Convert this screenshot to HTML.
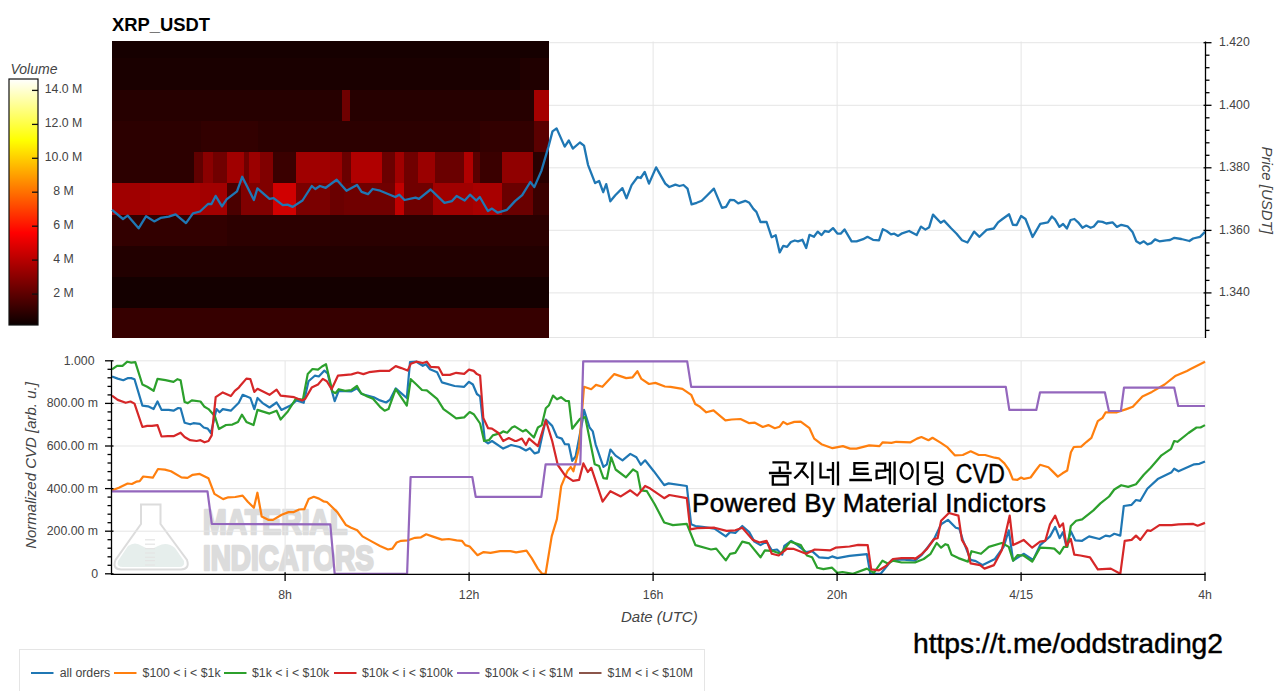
<!DOCTYPE html>
<html><head><meta charset="utf-8"><style>html,body{margin:0;padding:0;background:#fff;width:1280px;height:691px;overflow:hidden}</style></head>
<body><svg width="1280" height="691" viewBox="0 0 1280 691" style="display:block;font-family:'Liberation Sans',sans-serif"><rect width="1280" height="691" fill="#fff"/><text x="112" y="30.8" font-size="19" font-weight="bold" fill="#000" textLength="98" lengthAdjust="spacingAndGlyphs">XRP_USDT</text><line x1="285.1" y1="41.5" x2="285.1" y2="337.5" stroke="#e5e5e5" stroke-width="1"/><line x1="469.1" y1="41.5" x2="469.1" y2="337.5" stroke="#e5e5e5" stroke-width="1"/><line x1="653.1" y1="41.5" x2="653.1" y2="337.5" stroke="#e5e5e5" stroke-width="1"/><line x1="837.1" y1="41.5" x2="837.1" y2="337.5" stroke="#e5e5e5" stroke-width="1"/><line x1="1021.1" y1="41.5" x2="1021.1" y2="337.5" stroke="#e5e5e5" stroke-width="1"/><line x1="112" y1="42.7" x2="1205" y2="42.7" stroke="#e5e5e5" stroke-width="1"/><line x1="112" y1="105.3" x2="1205" y2="105.3" stroke="#e5e5e5" stroke-width="1"/><line x1="112" y1="167.8" x2="1205" y2="167.8" stroke="#e5e5e5" stroke-width="1"/><line x1="112" y1="230.3" x2="1205" y2="230.3" stroke="#e5e5e5" stroke-width="1"/><line x1="112" y1="292.9" x2="1205" y2="292.9" stroke="#e5e5e5" stroke-width="1"/><line x1="112" y1="337.5" x2="1205" y2="337.5" stroke="#e5e5e5" stroke-width="1"/><rect x="112" y="41" width="437" height="17" fill="rgb(22,0,0)" shape-rendering="crispEdges"/><rect x="112" y="58" width="408" height="32" fill="rgb(26,0,0)" shape-rendering="crispEdges"/><rect x="520" y="58" width="29" height="32" fill="rgb(32,0,0)" shape-rendering="crispEdges"/><rect x="112" y="90" width="230" height="31" fill="rgb(38,0,0)" shape-rendering="crispEdges"/><rect x="342" y="90" width="8" height="31" fill="rgb(110,0,0)" shape-rendering="crispEdges"/><rect x="350" y="90" width="184" height="31" fill="rgb(38,0,0)" shape-rendering="crispEdges"/><rect x="534" y="90" width="15" height="31" fill="rgb(165,0,0)" shape-rendering="crispEdges"/><rect x="112" y="121" width="89" height="31" fill="rgb(44,0,0)" shape-rendering="crispEdges"/><rect x="201" y="121" width="57" height="31" fill="rgb(50,0,0)" shape-rendering="crispEdges"/><rect x="258" y="121" width="222" height="31" fill="rgb(44,0,0)" shape-rendering="crispEdges"/><rect x="480" y="121" width="54" height="31" fill="rgb(50,0,0)" shape-rendering="crispEdges"/><rect x="534" y="121" width="15" height="31" fill="rgb(90,0,0)" shape-rendering="crispEdges"/><rect x="112" y="152" width="82" height="31" fill="rgb(44,0,0)" shape-rendering="crispEdges"/><rect x="194" y="152" width="9" height="31" fill="rgb(96,0,0)" shape-rendering="crispEdges"/><rect x="203" y="152" width="10" height="31" fill="rgb(138,0,0)" shape-rendering="crispEdges"/><rect x="213" y="152" width="14" height="31" fill="rgb(112,0,0)" shape-rendering="crispEdges"/><rect x="227" y="152" width="17" height="31" fill="rgb(160,0,0)" shape-rendering="crispEdges"/><rect x="244" y="152" width="5" height="31" fill="rgb(112,0,0)" shape-rendering="crispEdges"/><rect x="249" y="152" width="11" height="31" fill="rgb(155,0,0)" shape-rendering="crispEdges"/><rect x="260" y="152" width="13" height="31" fill="rgb(128,0,0)" shape-rendering="crispEdges"/><rect x="273" y="152" width="23" height="31" fill="rgb(58,0,0)" shape-rendering="crispEdges"/><rect x="296" y="152" width="34" height="31" fill="rgb(160,0,0)" shape-rendering="crispEdges"/><rect x="330" y="152" width="12" height="31" fill="rgb(154,0,0)" shape-rendering="crispEdges"/><rect x="342" y="152" width="9" height="31" fill="rgb(106,0,0)" shape-rendering="crispEdges"/><rect x="351" y="152" width="31" height="31" fill="rgb(176,0,0)" shape-rendering="crispEdges"/><rect x="382" y="152" width="13" height="31" fill="rgb(106,0,0)" shape-rendering="crispEdges"/><rect x="395" y="152" width="9" height="31" fill="rgb(160,0,0)" shape-rendering="crispEdges"/><rect x="404" y="152" width="14" height="31" fill="rgb(112,0,0)" shape-rendering="crispEdges"/><rect x="418" y="152" width="17" height="31" fill="rgb(154,0,0)" shape-rendering="crispEdges"/><rect x="435" y="152" width="29" height="31" fill="rgb(106,0,0)" shape-rendering="crispEdges"/><rect x="464" y="152" width="9" height="31" fill="rgb(176,0,0)" shape-rendering="crispEdges"/><rect x="473" y="152" width="7" height="31" fill="rgb(90,0,0)" shape-rendering="crispEdges"/><rect x="480" y="152" width="22" height="31" fill="rgb(58,0,0)" shape-rendering="crispEdges"/><rect x="502" y="152" width="31" height="31" fill="rgb(144,0,0)" shape-rendering="crispEdges"/><rect x="533" y="152" width="16" height="31" fill="rgb(42,0,0)" shape-rendering="crispEdges"/><rect x="112" y="183" width="38" height="32" fill="rgb(160,0,0)" shape-rendering="crispEdges"/><rect x="150" y="183" width="50" height="32" fill="rgb(168,0,0)" shape-rendering="crispEdges"/><rect x="200" y="183" width="27" height="32" fill="rgb(162,0,0)" shape-rendering="crispEdges"/><rect x="227" y="183" width="14" height="32" fill="rgb(74,0,0)" shape-rendering="crispEdges"/><rect x="241" y="183" width="32" height="32" fill="rgb(128,0,0)" shape-rendering="crispEdges"/><rect x="273" y="183" width="23" height="32" fill="rgb(208,0,0)" shape-rendering="crispEdges"/><rect x="296" y="183" width="34" height="32" fill="rgb(122,0,0)" shape-rendering="crispEdges"/><rect x="330" y="183" width="14" height="32" fill="rgb(106,0,0)" shape-rendering="crispEdges"/><rect x="344" y="183" width="51" height="32" fill="rgb(112,0,0)" shape-rendering="crispEdges"/><rect x="395" y="183" width="9" height="32" fill="rgb(192,0,0)" shape-rendering="crispEdges"/><rect x="404" y="183" width="29" height="32" fill="rgb(112,0,0)" shape-rendering="crispEdges"/><rect x="433" y="183" width="40" height="32" fill="rgb(160,0,0)" shape-rendering="crispEdges"/><rect x="473" y="183" width="29" height="32" fill="rgb(168,0,0)" shape-rendering="crispEdges"/><rect x="502" y="183" width="31" height="32" fill="rgb(106,0,0)" shape-rendering="crispEdges"/><rect x="533" y="183" width="16" height="32" fill="rgb(58,0,0)" shape-rendering="crispEdges"/><rect x="112" y="215" width="115" height="31" fill="rgb(50,0,0)" shape-rendering="crispEdges"/><rect x="227" y="215" width="103" height="31" fill="rgb(44,0,0)" shape-rendering="crispEdges"/><rect x="330" y="215" width="219" height="31" fill="rgb(42,0,0)" shape-rendering="crispEdges"/><rect x="112" y="246" width="437" height="31" fill="rgb(34,0,0)" shape-rendering="crispEdges"/><rect x="112" y="277" width="437" height="31" fill="rgb(20,0,0)" shape-rendering="crispEdges"/><rect x="112" y="308" width="437" height="30" fill="rgb(54,0,0)" shape-rendering="crispEdges"/><path d="M112.0,209.8 L123.0,219.0 L127.6,215.6 L138.6,228.3 L146.1,216.2 L154.2,221.4 L160.6,217.9 L168.7,216.7 L175.6,214.4 L186.0,223.1 L193.0,213.3 L200.0,211.5 L208.0,204.0 L211.5,204.0 L215.6,195.9 L222.0,206.3 L226.6,199.4 L237.0,191.3 L242.2,176.8 L253.9,200.0 L257.4,188.4 L269.5,198.8 L273.6,198.2 L282.8,205.2 L287.5,204.6 L292.7,206.9 L302.5,200.5 L311.8,186.0 L315.3,189.0 L319.9,186.0 L325.7,187.8 L336.7,179.7 L346.5,190.7 L357.0,184.9 L361.6,191.8 L368.0,194.2 L372.6,189.0 L380.2,190.7 L395.3,197.0 L399.3,194.7 L404.5,200.0 L415.5,197.6 L419.0,198.8 L430.6,189.5 L444.5,202.8 L452.0,201.1 L456.6,195.9 L464.7,200.5 L470.0,194.7 L476.3,200.5 L479.8,197.0 L487.9,211.0 L492.0,208.6 L497.7,212.7 L507.0,209.8 L515.0,201.1 L522.2,195.2 L530.3,182.0 L534.3,187.1 L541.4,170.9 L548.5,146.6 L552.5,131.4 L556.6,128.4 L564.7,146.6 L568.8,140.5 L572.8,148.6 L579.9,142.5 L584.0,145.6 L588.0,164.8 L595.1,183.1 L599.1,181.0 L603.2,192.2 L606.2,184.1 L610.3,201.3 L615.3,195.2 L622.4,188.1 L626.5,198.3 L631.6,185.1 L637.6,177.0 L640.7,178.0 L644.7,171.9 L649.0,183.6 L656.1,167.4 L665.3,183.6 L669.3,187.0 L675.4,184.6 L679.4,186.0 L683.5,185.0 L687.5,188.6 L691.6,204.4 L696.7,202.8 L701.7,200.8 L706.8,195.7 L713.9,188.6 L722.0,207.9 L726.0,206.9 L730.1,199.8 L734.1,200.2 L738.2,203.4 L745.3,200.8 L749.3,202.8 L753.4,208.9 L756.4,211.9 L760.5,222.0 L766.6,222.0 L771.6,237.2 L775.7,235.2 L779.7,252.4 L783.3,245.8 L787.1,246.9 L790.9,242.0 L794.8,240.5 L798.0,241.4 L802.4,239.8 L806.2,248.0 L809.5,234.8 L813.9,236.8 L817.7,231.6 L821.6,235.1 L824.8,231.0 L828.7,231.8 L833.0,228.1 L837.4,233.5 L840.7,233.7 L844.5,229.4 L851.6,241.4 L856.6,241.4 L863.1,239.2 L867.5,236.8 L873.0,239.8 L879.0,240.3 L882.8,229.2 L886.6,231.0 L891.0,234.3 L894.3,233.7 L898.1,235.9 L901.4,233.7 L909.1,231.0 L916.7,235.1 L921.0,226.6 L925.4,229.6 L929.2,227.2 L933.0,214.6 L940.7,222.8 L944.0,220.6 L951.1,228.3 L956.6,233.7 L962.0,240.3 L967.5,242.5 L974.1,231.6 L979.5,236.8 L986.6,229.9 L993.7,228.5 L998.1,222.3 L1002.5,219.0 L1009.1,214.3 L1012.9,224.8 L1016.7,225.0 L1021.1,216.0 L1025.5,219.0 L1032.6,237.0 L1040.2,223.9 L1047.9,222.3 L1051.9,216.5 L1055.0,219.4 L1059.4,226.9 L1063.1,224.0 L1066.9,228.5 L1070.6,220.0 L1074.4,219.0 L1078.1,222.3 L1082.5,227.8 L1086.3,225.6 L1090.6,227.8 L1093.8,226.5 L1098.1,221.3 L1102.5,221.9 L1106.3,223.5 L1112.5,222.3 L1116.9,226.9 L1121.3,224.8 L1127.5,226.3 L1132.5,231.9 L1136.3,241.3 L1140.0,243.5 L1143.8,241.3 L1147.5,244.4 L1151.3,243.1 L1155.0,239.4 L1159.4,241.3 L1166.3,240.3 L1170.0,240.0 L1174.4,237.8 L1181.3,239.0 L1189.4,241.0 L1193.1,238.5 L1200.0,236.9 L1205.0,231.9" fill="none" stroke="#1f77b4" stroke-width="2.3" stroke-linejoin="round"/><line x1="1205.5" y1="41.5" x2="1205.5" y2="338.0" stroke="#000" stroke-width="1.3"/><line x1="1203.5" y1="42.7" x2="1211.5" y2="42.7" stroke="#000" stroke-width="1.3"/><text x="1219" y="46.0" font-size="12.3" fill="#444">1.420</text><line x1="1205.5" y1="55.2" x2="1209.5" y2="55.2" stroke="#000" stroke-width="1.3"/><line x1="1205.5" y1="67.7" x2="1209.5" y2="67.7" stroke="#000" stroke-width="1.3"/><line x1="1205.5" y1="80.2" x2="1209.5" y2="80.2" stroke="#000" stroke-width="1.3"/><line x1="1205.5" y1="92.7" x2="1209.5" y2="92.7" stroke="#000" stroke-width="1.3"/><line x1="1203.5" y1="105.3" x2="1211.5" y2="105.3" stroke="#000" stroke-width="1.3"/><text x="1219" y="108.6" font-size="12.3" fill="#444">1.400</text><line x1="1205.5" y1="117.8" x2="1209.5" y2="117.8" stroke="#000" stroke-width="1.3"/><line x1="1205.5" y1="130.3" x2="1209.5" y2="130.3" stroke="#000" stroke-width="1.3"/><line x1="1205.5" y1="142.8" x2="1209.5" y2="142.8" stroke="#000" stroke-width="1.3"/><line x1="1205.5" y1="155.3" x2="1209.5" y2="155.3" stroke="#000" stroke-width="1.3"/><line x1="1203.5" y1="167.8" x2="1211.5" y2="167.8" stroke="#000" stroke-width="1.3"/><text x="1219" y="171.1" font-size="12.3" fill="#444">1.380</text><line x1="1205.5" y1="180.3" x2="1209.5" y2="180.3" stroke="#000" stroke-width="1.3"/><line x1="1205.5" y1="192.8" x2="1209.5" y2="192.8" stroke="#000" stroke-width="1.3"/><line x1="1205.5" y1="205.3" x2="1209.5" y2="205.3" stroke="#000" stroke-width="1.3"/><line x1="1205.5" y1="217.8" x2="1209.5" y2="217.8" stroke="#000" stroke-width="1.3"/><line x1="1203.5" y1="230.4" x2="1211.5" y2="230.4" stroke="#000" stroke-width="1.3"/><text x="1219" y="233.7" font-size="12.3" fill="#444">1.360</text><line x1="1205.5" y1="242.9" x2="1209.5" y2="242.9" stroke="#000" stroke-width="1.3"/><line x1="1205.5" y1="255.4" x2="1209.5" y2="255.4" stroke="#000" stroke-width="1.3"/><line x1="1205.5" y1="267.9" x2="1209.5" y2="267.9" stroke="#000" stroke-width="1.3"/><line x1="1205.5" y1="280.4" x2="1209.5" y2="280.4" stroke="#000" stroke-width="1.3"/><line x1="1203.5" y1="292.9" x2="1211.5" y2="292.9" stroke="#000" stroke-width="1.3"/><text x="1219" y="296.2" font-size="12.3" fill="#444">1.340</text><line x1="1205.5" y1="305.4" x2="1209.5" y2="305.4" stroke="#000" stroke-width="1.3"/><line x1="1205.5" y1="317.9" x2="1209.5" y2="317.9" stroke="#000" stroke-width="1.3"/><line x1="1205.5" y1="330.4" x2="1209.5" y2="330.4" stroke="#000" stroke-width="1.3"/><text transform="translate(1262,190.2) rotate(90)" text-anchor="middle" font-size="15" font-style="italic" fill="#444">Price [USDT]</text><defs><linearGradient id="hot" x1="0" y1="1" x2="0" y2="0"><stop offset="0" stop-color="#0b0000"/><stop offset="0.375" stop-color="#ff0000"/><stop offset="0.75" stop-color="#ffff00"/><stop offset="1" stop-color="#ffffff"/></linearGradient></defs><rect x="9" y="79" width="29" height="246" fill="url(#hot)" stroke="#111" stroke-width="1.2"/><line x1="32" y1="90.4" x2="38" y2="90.4" stroke="#111" stroke-width="1.3"/><text x="63.5" y="93.3" text-anchor="middle" font-size="12.3" fill="#444">14.0 M</text><line x1="32" y1="124.4" x2="38" y2="124.4" stroke="#111" stroke-width="1.3"/><text x="63.5" y="127.3" text-anchor="middle" font-size="12.3" fill="#444">12.0 M</text><line x1="32" y1="158.3" x2="38" y2="158.3" stroke="#111" stroke-width="1.3"/><text x="63.5" y="161.2" text-anchor="middle" font-size="12.3" fill="#444">10.0 M</text><line x1="32" y1="192.2" x2="38" y2="192.2" stroke="#111" stroke-width="1.3"/><text x="63.5" y="195.2" text-anchor="middle" font-size="12.3" fill="#444">8 M</text><line x1="32" y1="226.2" x2="38" y2="226.2" stroke="#111" stroke-width="1.3"/><text x="63.5" y="229.1" text-anchor="middle" font-size="12.3" fill="#444">6 M</text><line x1="32" y1="260.1" x2="38" y2="260.1" stroke="#111" stroke-width="1.3"/><text x="63.5" y="263.0" text-anchor="middle" font-size="12.3" fill="#444">4 M</text><line x1="32" y1="294.1" x2="38" y2="294.1" stroke="#111" stroke-width="1.3"/><text x="63.5" y="297.0" text-anchor="middle" font-size="12.3" fill="#444">2 M</text><text x="10.5" y="73.5" font-size="14" font-style="italic" fill="#444">Volume</text><g fill="none" stroke="#dcdcdc" stroke-width="2"><path d="M141,504.5 H160.5 V524 L187,560 Q190,569 181,569.5 H121 Q112,569 115.5,560 L141,524 Z"/></g><path d="M118,561 L128,546 Q135,541 142,546 Q150,551 158,546 Q167,541 175,548 L184,561 Q185,567 179,567 H123 Q116,567 118,561 Z" fill="#e6eeec"/><line x1="145" y1="539.8" x2="155" y2="539.8" stroke="#e4e4e4" stroke-width="1.2"/><line x1="145" y1="544.2" x2="155" y2="544.2" stroke="#e4e4e4" stroke-width="1.2"/><line x1="145" y1="548.6" x2="155" y2="548.6" stroke="#e4e4e4" stroke-width="1.2"/><line x1="145" y1="553" x2="155" y2="553" stroke="#e4e4e4" stroke-width="1.2"/><line x1="145" y1="557.3" x2="155" y2="557.3" stroke="#e4e4e4" stroke-width="1.2"/><line x1="145" y1="560.6" x2="155" y2="560.6" stroke="#e4e4e4" stroke-width="1.2"/><line x1="145" y1="565" x2="155" y2="565" stroke="#e4e4e4" stroke-width="1.2"/><text transform="translate(203,534) scale(0.788,1)" font-size="36" font-weight="bold" fill="#dcdcdc" stroke="#dcdcdc" stroke-width="2.6" stroke-linejoin="round">MATERIAL</text><text transform="translate(203,569.5) scale(0.774,1)" font-size="36" font-weight="bold" fill="#dcdcdc" stroke="#dcdcdc" stroke-width="2.6" stroke-linejoin="round">INDICATORS</text><line x1="285.1" y1="361" x2="285.1" y2="574" stroke="#e5e5e5" stroke-width="1"/><line x1="469.1" y1="361" x2="469.1" y2="574" stroke="#e5e5e5" stroke-width="1"/><line x1="653.1" y1="361" x2="653.1" y2="574" stroke="#e5e5e5" stroke-width="1"/><line x1="837.1" y1="361" x2="837.1" y2="574" stroke="#e5e5e5" stroke-width="1"/><line x1="1021.1" y1="361" x2="1021.1" y2="574" stroke="#e5e5e5" stroke-width="1"/><line x1="112" y1="360.8" x2="1205" y2="360.8" stroke="#e5e5e5" stroke-width="1"/><line x1="112" y1="403.4" x2="1205" y2="403.4" stroke="#e5e5e5" stroke-width="1"/><line x1="112" y1="446.0" x2="1205" y2="446.0" stroke="#e5e5e5" stroke-width="1"/><line x1="112" y1="488.6" x2="1205" y2="488.6" stroke="#e5e5e5" stroke-width="1"/><line x1="112" y1="531.2" x2="1205" y2="531.2" stroke="#e5e5e5" stroke-width="1"/><line x1="1205" y1="361" x2="1205" y2="574" stroke="#e5e5e5" stroke-width="1"/><path d="M112.0,376.5 L117.7,378.6 L123.3,380.2 L128.1,378.1 L131.3,378.1 L134.5,379.2 L142.4,405.6 L148.0,406.3 L153.6,409.1 L157.5,401.5 L161.5,409.9 L168.7,409.9 L173.5,410.7 L178.2,408.0 L180.6,408.3 L184.6,422.7 L190.2,424.3 L193.4,423.2 L199.7,423.8 L203.7,427.5 L207.7,428.6 L210.9,433.0 L216.5,409.1 L219.6,412.3 L222.8,409.1 L230.8,410.7 L238.8,402.8 L242.7,394.8 L250.4,398.0 L254.3,409.1 L257.5,398.0 L262.3,402.8 L269.5,407.5 L276.6,402.5 L281.4,409.9 L291.0,405.2 L296.5,400.4 L303.7,402.8 L308.5,381.3 L314.8,375.7 L318.8,376.5 L324.4,370.6 L327.6,373.3 L331.6,390.0 L334.7,401.2 L338.7,390.8 L351.5,391.3 L357.0,388.4 L361.8,394.0 L373.8,397.2 L380.0,400.4 L386.1,402.5 L390.1,399.6 L395.7,388.4 L406.8,398.0 L410.0,362.2 L416.4,361.7 L422.8,365.8 L426.0,364.2 L430.0,369.3 L437.1,372.2 L441.9,382.4 L454.6,386.0 L464.2,386.8 L469.0,381.8 L472.9,384.5 L476.9,394.0 L480.1,396.4 L484.9,441.0 L488.1,443.4 L492.0,441.0 L503.2,448.6 L511.1,445.0 L519.6,447.0 L525.9,450.5 L529.9,448.2 L534.7,453.4 L538.7,452.1 L545.8,419.5 L552.2,425.9 L557.0,437.0 L561.8,438.6 L564.9,444.2 L568.7,444.3 L572.2,460.8 L575.6,456.5 L582.6,420.0 L584.0,409.9 L589.6,427.5 L592.8,431.4 L595.6,444.3 L603.4,466.9 L606.9,464.3 L610.4,449.5 L615.6,455.6 L622.5,460.3 L630.3,453.9 L636.4,457.3 L640.8,464.8 L645.1,460.3 L653.8,471.2 L664.2,485.1 L668.6,483.4 L686.8,486.0 L691.1,524.2 L695.4,526.0 L702.3,526.9 L714.5,528.6 L725.8,536.4 L730.1,532.1 L735.3,533.0 L742.3,526.0 L749.2,532.1 L754.4,541.6 L760.5,545.1 L766.6,541.6 L771.8,550.3 L777.0,549.5 L782.2,554.7 L784.3,546.0 L791.3,540.8 L797.4,545.1 L806.1,552.1 L812.1,551.2 L819.1,557.3 L828.6,558.1 L832.1,556.4 L837.3,558.1 L849.5,555.9 L866.9,554.1 L870.3,573.8 L880.7,573.8 L891.2,560.7 L901.6,559.4 L915.0,560.7 L922.0,554.7 L934.1,539.0 L941.1,524.3 L948.0,519.9 L955.8,527.7 L959.3,528.6 L962.8,539.9 L970.6,559.9 L975.8,561.1 L982.7,565.1 L994.9,559.0 L1003.6,546.9 L1008.8,530.3 L1013.1,560.7 L1023.6,553.8 L1033.1,559.9 L1040.1,545.1 L1050.0,536.4 L1055.2,526.9 L1059.6,538.2 L1063.0,532.1 L1066.5,546.9 L1070.8,531.2 L1075.2,540.3 L1082.1,540.8 L1089.1,536.4 L1099.5,539.0 L1105.6,535.6 L1109.9,536.4 L1114.3,533.8 L1120.3,535.6 L1123.8,506.0 L1131.6,504.8 L1136.0,500.0 L1140.3,500.8 L1147.3,488.7 L1157.7,479.1 L1171.6,472.2 L1174.2,468.7 L1178.5,471.3 L1194.2,464.3 L1199.4,463.8 L1205.0,461.4" fill="none" stroke="#1f77b4" stroke-width="2.2" stroke-linejoin="round"/><path d="M112.0,490.4 L118.9,487.8 L127.6,483.5 L131.9,484.0 L136.3,481.7 L139.7,481.2 L143.2,476.5 L152.8,477.7 L158.0,469.0 L164.9,469.6 L171.0,471.3 L181.4,477.4 L187.5,477.9 L192.7,474.8 L199.7,473.9 L208.4,478.2 L214.4,493.9 L223.1,499.1 L228.3,497.3 L235.3,497.0 L242.6,495.6 L247.8,501.7 L253.9,507.8 L257.4,492.7 L261.7,516.5 L268.7,519.9 L273.0,519.9 L281.7,514.7 L288.6,512.1 L293.8,512.1 L299.1,509.5 L304.3,509.2 L308.6,499.1 L313.8,496.8 L319.0,498.6 L323.4,501.3 L326.9,502.0 L337.3,512.1 L346.0,525.1 L351.2,527.7 L357.2,530.3 L362.5,536.4 L372.0,541.6 L380.0,546.0 L388.0,549.5 L392.4,548.6 L396.7,542.5 L401.1,540.8 L408.0,540.3 L415.0,537.8 L421.0,537.3 L426.2,534.3 L432.3,536.4 L441.9,539.6 L448.8,539.0 L456.6,540.3 L461.9,540.8 L465.3,545.1 L469.7,546.5 L477.5,555.2 L483.6,552.1 L490.5,552.9 L500.1,551.2 L510.5,551.2 L516.1,552.4 L526.5,550.7 L531.7,558.1 L537.8,568.6 L542.1,573.8 L545.6,573.8 L551.7,536.4 L556.9,519.1 L561.2,486.1 L567.3,471.3 L570.8,467.0 L573.4,471.3 L579.1,447.8 L584.0,386.8 L591.2,389.2 L596.0,384.9 L602.4,386.8 L614.3,374.1 L626.2,378.1 L632.6,377.3 L637.4,371.2 L641.4,378.9 L649.0,384.0 L655.4,382.9 L664.9,386.5 L670.5,386.8 L682.4,388.8 L691.2,394.8 L695.2,404.0 L700.0,406.8 L706.3,412.3 L713.5,410.4 L725.4,420.3 L731.8,419.5 L740.5,419.0 L749.3,423.2 L754.9,422.7 L762.8,427.0 L768.4,425.1 L774.8,428.2 L779.6,426.7 L783.2,421.9 L787.2,424.3 L794.3,421.9 L800.7,421.6 L809.5,428.2 L814.2,438.6 L821.4,444.2 L832.5,448.2 L842.9,446.1 L850.1,448.6 L856.4,448.6 L869.2,445.4 L879.5,446.1 L882.7,442.3 L891.5,442.9 L896.2,441.8 L910.6,442.3 L917.0,438.6 L921.4,437.0 L928.5,440.2 L932.5,437.8 L940.5,442.6 L947.6,447.4 L954.8,455.3 L962.8,455.0 L970.7,451.3 L978.7,455.0 L985.1,455.0 L994.6,457.7 L998.8,458.3 L1004.4,463.4 L1009.0,470.0 L1012.8,479.4 L1017.5,479.8 L1021.2,477.5 L1024.0,478.9 L1030.6,477.5 L1035.3,471.0 L1040.0,464.8 L1048.4,467.2 L1053.1,471.9 L1057.8,476.6 L1062.5,473.3 L1067.2,470.5 L1070.9,452.2 L1073.8,447.0 L1081.2,446.6 L1086.6,441.8 L1091.4,437.8 L1097.8,421.1 L1102.5,417.9 L1105.7,412.3 L1116.9,412.3 L1126.4,409.1 L1132.8,406.8 L1142.4,396.4 L1151.9,391.9 L1164.6,384.5 L1175.8,375.7 L1187.0,370.9 L1190.1,369.3 L1205.0,361.7" fill="none" stroke="#ff7f0e" stroke-width="2.2" stroke-linejoin="round"/><path d="M112.0,369.3 L117.0,365.8 L122.5,365.8 L127.3,361.7 L131.3,362.6 L135.3,362.2 L142.4,384.5 L147.2,386.8 L153.6,390.8 L157.5,378.9 L165.5,380.2 L173.5,381.8 L177.5,379.2 L180.6,380.2 L184.6,402.0 L187.8,403.1 L191.8,400.4 L200.5,401.5 L204.5,406.8 L208.5,409.1 L214.9,416.3 L218.9,429.0 L226.0,425.0 L232.4,424.6 L238.0,421.9 L241.9,414.7 L246.4,421.9 L253.5,425.1 L257.5,409.9 L269.5,413.6 L276.6,410.7 L280.6,419.5 L287.8,411.5 L295.7,398.8 L302.9,399.6 L307.7,374.1 L312.5,369.0 L318.0,369.6 L322.0,366.5 L326.0,364.2 L332.4,391.6 L335.5,393.2 L338.7,389.2 L345.1,390.8 L351.5,390.0 L357.0,386.0 L361.0,393.2 L367.4,396.4 L373.0,398.8 L380.0,406.8 L384.6,410.7 L388.5,409.1 L395.7,389.2 L406.8,405.6 L410.8,379.2 L416.4,384.5 L422.0,390.0 L426.8,390.4 L437.1,398.8 L443.5,409.1 L449.8,413.6 L456.2,418.4 L464.2,417.4 L469.7,412.0 L473.7,414.2 L480.1,423.5 L484.1,441.0 L488.9,440.2 L492.8,435.4 L500.8,433.0 L503.2,431.4 L507.2,432.7 L512.0,427.5 L514.8,426.3 L522.7,431.4 L525.9,429.8 L533.9,437.5 L537.9,427.5 L541.8,425.1 L545.8,408.3 L549.0,405.2 L553.0,395.6 L557.0,399.3 L561.0,397.2 L565.7,400.9 L568.9,401.2 L572.2,428.7 L580.1,418.7 L585.2,417.1 L594.7,464.3 L599.1,466.0 L603.4,478.2 L606.9,478.7 L611.2,457.3 L615.6,469.5 L626.0,477.3 L633.0,469.5 L637.3,472.1 L640.8,490.3 L646.9,491.2 L654.7,504.2 L664.2,522.5 L672.9,525.1 L686.8,523.9 L695.4,545.1 L711.0,549.5 L716.2,548.6 L725.8,560.4 L730.1,553.8 L735.3,552.9 L742.3,541.6 L749.2,543.4 L760.5,557.3 L764.9,550.3 L773.5,551.2 L780.5,553.8 L790.4,541.6 L800.8,545.1 L806.9,555.5 L812.1,557.3 L817.3,567.7 L823.4,569.1 L832.1,567.7 L837.3,572.9 L842.5,572.0 L853.0,573.8 L866.9,568.6 L873.8,572.9 L882.5,560.7 L887.7,563.4 L892.9,560.7 L901.6,562.5 L915.0,562.5 L923.7,559.0 L930.6,553.8 L936.7,543.0 L941.1,547.7 L945.4,544.2 L948.0,545.1 L951.5,554.7 L958.4,558.1 L968.0,561.6 L971.5,551.2 L981.0,553.8 L988.8,546.9 L1001.8,543.0 L1008.8,546.9 L1013.1,560.7 L1017.5,555.2 L1023.6,555.5 L1032.2,561.6 L1040.1,547.7 L1050.0,548.2 L1054.3,548.6 L1059.6,553.8 L1063.9,546.9 L1067.4,546.9 L1070.8,526.0 L1076.1,520.8 L1082.1,519.4 L1093.4,510.4 L1100.4,503.4 L1109.1,496.5 L1114.3,489.5 L1121.2,485.2 L1128.2,486.9 L1136.0,484.3 L1143.8,474.8 L1150.7,467.8 L1161.5,455.3 L1171.0,448.9 L1174.2,441.0 L1177.4,441.8 L1188.5,433.0 L1196.5,427.5 L1200.5,427.5 L1205.0,425.1" fill="none" stroke="#2ca02c" stroke-width="2.2" stroke-linejoin="round"/><path d="M112.0,395.6 L117.7,399.9 L125.7,402.8 L130.5,401.5 L134.5,403.6 L142.4,427.0 L147.2,425.9 L152.0,425.9 L157.5,425.1 L161.5,436.5 L167.9,436.2 L173.5,436.2 L180.6,432.7 L184.6,437.0 L190.2,440.2 L196.6,441.0 L200.5,440.2 L204.5,442.3 L208.5,441.0 L211.7,435.4 L215.7,397.2 L222.8,392.4 L230.8,396.1 L234.8,390.8 L238.8,387.6 L240.0,386.0 L246.4,378.6 L250.4,379.2 L254.3,391.9 L257.5,388.8 L269.5,394.8 L276.6,389.7 L280.6,395.6 L294.1,397.2 L302.1,400.4 L305.3,398.8 L311.7,387.6 L318.0,384.5 L322.8,378.9 L326.8,381.3 L331.6,389.2 L337.9,375.7 L351.5,374.4 L357.8,372.5 L363.4,374.1 L369.0,372.2 L380.0,370.9 L389.3,370.9 L395.7,366.1 L401.3,368.1 L407.6,370.6 L410.8,363.8 L416.4,361.7 L422.8,363.0 L426.8,361.7 L430.7,366.9 L438.7,367.4 L442.7,374.9 L449.8,374.9 L456.2,372.8 L464.2,373.8 L469.0,369.6 L473.7,370.9 L476.9,374.1 L480.1,375.4 L483.3,417.9 L488.1,428.2 L492.0,428.6 L498.4,433.0 L503.2,441.0 L508.8,438.1 L515.0,441.0 L516.4,441.0 L521.9,438.6 L525.9,445.0 L529.1,438.6 L537.9,446.1 L545.8,420.3 L552.2,441.0 L557.8,465.0 L565.2,475.6 L573.0,480.8 L579.1,479.9 L583.4,463.4 L587.8,472.1 L591.3,467.8 L602.6,501.6 L610.4,491.2 L620.8,496.4 L630.3,490.3 L637.3,495.6 L645.1,486.0 L650.3,488.6 L664.2,498.2 L669.4,495.0 L686.8,498.2 L690.3,529.4 L697.1,528.1 L714.5,527.7 L726.6,530.9 L735.3,530.3 L742.3,527.7 L752.7,539.9 L759.6,542.5 L766.6,540.8 L771.8,553.8 L778.7,555.5 L785.0,550.3 L787.0,548.6 L793.9,548.9 L806.1,553.8 L814.7,549.5 L830.4,550.3 L835.6,547.7 L849.5,546.5 L858.2,544.8 L867.7,545.1 L871.2,569.4 L879.0,570.3 L886.0,566.0 L892.9,559.0 L901.6,558.1 L913.8,558.1 L915.0,559.0 L922.0,553.8 L927.2,548.6 L934.1,539.0 L937.6,538.2 L941.1,520.8 L948.9,513.0 L958.4,515.6 L961.9,539.9 L967.1,548.6 L970.6,563.4 L980.1,565.1 L984.5,568.6 L994.0,565.1 L1001.8,550.3 L1009.7,515.6 L1013.1,545.1 L1023.6,539.9 L1032.2,547.7 L1040.1,541.6 L1045.3,540.8 L1050.0,524.3 L1055.2,515.6 L1059.6,526.9 L1063.0,523.4 L1066.5,546.0 L1070.8,539.0 L1074.3,554.7 L1080.4,555.5 L1090.0,557.3 L1097.8,569.4 L1110.8,568.6 L1120.3,573.8 L1124.7,540.8 L1131.6,539.9 L1136.0,535.6 L1140.3,539.9 L1147.3,530.3 L1150.7,530.9 L1159.4,525.1 L1171.6,525.1 L1178.5,524.3 L1193.3,523.9 L1197.6,525.7 L1205.0,522.9" fill="none" stroke="#d62728" stroke-width="2.2" stroke-linejoin="round"/><path d="M112.0,491.3 L207.5,491.3 L211.8,523.9 L330.3,524.3 L334.7,573.8 L407.1,573.8 L410.6,477.0 L472.3,477.0 L475.7,496.8 L541.3,496.8 L545.6,464.3 L580.3,464.3 L583.2,361.4 L687.2,361.4 L691.2,386.8 L1005.8,386.8 L1009.3,409.9 L1036.3,409.9 L1040.0,392.4 L1104.9,392.4 L1108.9,411.0 L1120.9,411.0 L1124.0,387.6 L1174.2,387.6 L1178.2,406.0 L1205.0,406.0" fill="none" stroke="#9467bd" stroke-width="2.2" stroke-linejoin="round"/><line x1="111.5" y1="360.5" x2="111.5" y2="574.5" stroke="#000" stroke-width="1.3"/><line x1="105.0" y1="360.8" x2="113.5" y2="360.8" stroke="#000" stroke-width="1.3"/><text x="94.5" y="364.8" text-anchor="end" font-size="12.3" fill="#444">1.000</text><line x1="107.5" y1="369.3" x2="111.5" y2="369.3" stroke="#000" stroke-width="1.3"/><line x1="107.5" y1="377.8" x2="111.5" y2="377.8" stroke="#000" stroke-width="1.3"/><line x1="107.5" y1="386.4" x2="111.5" y2="386.4" stroke="#000" stroke-width="1.3"/><line x1="107.5" y1="394.9" x2="111.5" y2="394.9" stroke="#000" stroke-width="1.3"/><line x1="105.0" y1="403.4" x2="113.5" y2="403.4" stroke="#000" stroke-width="1.3"/><text x="98" y="407.4" text-anchor="end" font-size="12.3" fill="#444">800.00 m</text><line x1="107.5" y1="411.9" x2="111.5" y2="411.9" stroke="#000" stroke-width="1.3"/><line x1="107.5" y1="420.4" x2="111.5" y2="420.4" stroke="#000" stroke-width="1.3"/><line x1="107.5" y1="429.0" x2="111.5" y2="429.0" stroke="#000" stroke-width="1.3"/><line x1="107.5" y1="437.5" x2="111.5" y2="437.5" stroke="#000" stroke-width="1.3"/><line x1="105.0" y1="446.0" x2="113.5" y2="446.0" stroke="#000" stroke-width="1.3"/><text x="98" y="450.0" text-anchor="end" font-size="12.3" fill="#444">600.00 m</text><line x1="107.5" y1="454.5" x2="111.5" y2="454.5" stroke="#000" stroke-width="1.3"/><line x1="107.5" y1="463.0" x2="111.5" y2="463.0" stroke="#000" stroke-width="1.3"/><line x1="107.5" y1="471.6" x2="111.5" y2="471.6" stroke="#000" stroke-width="1.3"/><line x1="107.5" y1="480.1" x2="111.5" y2="480.1" stroke="#000" stroke-width="1.3"/><line x1="105.0" y1="488.6" x2="113.5" y2="488.6" stroke="#000" stroke-width="1.3"/><text x="98" y="492.6" text-anchor="end" font-size="12.3" fill="#444">400.00 m</text><line x1="107.5" y1="497.1" x2="111.5" y2="497.1" stroke="#000" stroke-width="1.3"/><line x1="107.5" y1="505.6" x2="111.5" y2="505.6" stroke="#000" stroke-width="1.3"/><line x1="107.5" y1="514.2" x2="111.5" y2="514.2" stroke="#000" stroke-width="1.3"/><line x1="107.5" y1="522.7" x2="111.5" y2="522.7" stroke="#000" stroke-width="1.3"/><line x1="105.0" y1="531.2" x2="113.5" y2="531.2" stroke="#000" stroke-width="1.3"/><text x="98" y="535.2" text-anchor="end" font-size="12.3" fill="#444">200.00 m</text><line x1="107.5" y1="539.7" x2="111.5" y2="539.7" stroke="#000" stroke-width="1.3"/><line x1="107.5" y1="548.2" x2="111.5" y2="548.2" stroke="#000" stroke-width="1.3"/><line x1="107.5" y1="556.8" x2="111.5" y2="556.8" stroke="#000" stroke-width="1.3"/><line x1="107.5" y1="565.3" x2="111.5" y2="565.3" stroke="#000" stroke-width="1.3"/><line x1="105.0" y1="573.8" x2="113.5" y2="573.8" stroke="#000" stroke-width="1.3"/><text x="98" y="577.8" text-anchor="end" font-size="12.3" fill="#444">0</text><text transform="translate(36,465.5) rotate(-90)" text-anchor="middle" font-size="15" font-style="italic" fill="#444">Normalized CVD [arb. u.]</text><line x1="111.0" y1="574.3" x2="1205.5" y2="574.3" stroke="#000" stroke-width="1.3"/><line x1="285.1" y1="572.3" x2="285.1" y2="581" stroke="#000" stroke-width="1.3"/><text x="285.1" y="599" text-anchor="middle" font-size="12.3" fill="#444">8h</text><line x1="469.1" y1="572.3" x2="469.1" y2="581" stroke="#000" stroke-width="1.3"/><text x="469.1" y="599" text-anchor="middle" font-size="12.3" fill="#444">12h</text><line x1="653.1" y1="572.3" x2="653.1" y2="581" stroke="#000" stroke-width="1.3"/><text x="653.1" y="599" text-anchor="middle" font-size="12.3" fill="#444">16h</text><line x1="837.1" y1="572.3" x2="837.1" y2="581" stroke="#000" stroke-width="1.3"/><text x="837.1" y="599" text-anchor="middle" font-size="12.3" fill="#444">20h</text><line x1="1021.1" y1="572.3" x2="1021.1" y2="581" stroke="#000" stroke-width="1.3"/><text x="1021.1" y="599" text-anchor="middle" font-size="12.3" fill="#444">4/15</text><line x1="1205.0" y1="572.3" x2="1205.0" y2="581" stroke="#000" stroke-width="1.3"/><text x="1205.0" y="599" text-anchor="middle" font-size="12.3" fill="#444">4h</text><text x="659.3" y="621.6" text-anchor="middle" font-size="15" font-style="italic" fill="#444">Date (UTC)</text><path d="M772.4,462.4 H787.7 V469.8 M779.8,466.5 V473 M768.9,473 H791.6 M772.8,476.1 H787.7 V484.7 H772.8 Z M795.9,463.6 H805.6 Q802,472 794.3,478.4 M801.2,470 L808.4,478 M812.3,461.6 V485.1 M820.5,462.4 V477.3 H829.8 M826.7,469.8 H833 M833,462 V485.1 M838,461.6 V485.5 M868.4,463.2 H854.4 V473.75 H868.8 M854.4,468.9 H868.4 M849.3,480 H872 M875.9,463.6 H885.2 V470.6 H876.6 V478.4 Q881,478 886.4,477.2 M885.6,469.8 H890 M889.9,462 V484.3 M894.6,461.6 V485 M906.7,463.2 A5.9,7.8 0 1,0 906.71,463.2 Z M917.7,461.6 V485 M938,462.8 H925.9 V472.6 H938.4 M941.9,461.6 V477.7" fill="none" stroke="#000" stroke-width="2.3" stroke-linecap="butt" stroke-linejoin="miter"/><ellipse cx="935.6" cy="480.8" rx="7" ry="3.6" fill="none" stroke="#000" stroke-width="2.3" stroke-linecap="butt" stroke-linejoin="miter"/><text x="955.5" y="483.2" font-size="27" fill="#000" stroke="#000" stroke-width="0.35" textLength="49.5" lengthAdjust="spacingAndGlyphs">CVD</text><text x="692" y="511.5" font-size="26" fill="#000" stroke="#000" stroke-width="0.5" textLength="354" lengthAdjust="spacing">Powered By Material Indictors</text><text x="913" y="653" font-size="28.3" fill="#000" stroke="#000" stroke-width="0.45" textLength="310" lengthAdjust="spacing">https://t.me/oddstrading2</text><rect x="19.5" y="649.5" width="685" height="50" fill="#fff" stroke="#e5e5e5" stroke-width="1"/><line x1="31" y1="673" x2="53.5" y2="673" stroke="#1f77b4" stroke-width="2"/><text x="59.7" y="677.3" font-size="12.3" fill="#444">all orders</text><line x1="114" y1="673" x2="136.5" y2="673" stroke="#ff7f0e" stroke-width="2"/><text x="142.6" y="677.3" font-size="12.3" fill="#444">$100 &lt; i &lt; $1k</text><line x1="224" y1="673" x2="246.5" y2="673" stroke="#2ca02c" stroke-width="2"/><text x="252" y="677.3" font-size="12.3" fill="#444">$1k &lt; i &lt; $10k</text><line x1="334" y1="673" x2="356.5" y2="673" stroke="#d62728" stroke-width="2"/><text x="362" y="677.3" font-size="12.3" fill="#444">$10k &lt; i &lt; $100k</text><line x1="457" y1="673" x2="479.5" y2="673" stroke="#9467bd" stroke-width="2"/><text x="485" y="677.3" font-size="12.3" fill="#444">$100k &lt; i &lt; $1M</text><line x1="579" y1="673" x2="601.5" y2="673" stroke="#8c564b" stroke-width="2"/><text x="607.6" y="677.3" font-size="12.3" fill="#444">$1M &lt; i &lt; $10M</text></svg></body></html>
